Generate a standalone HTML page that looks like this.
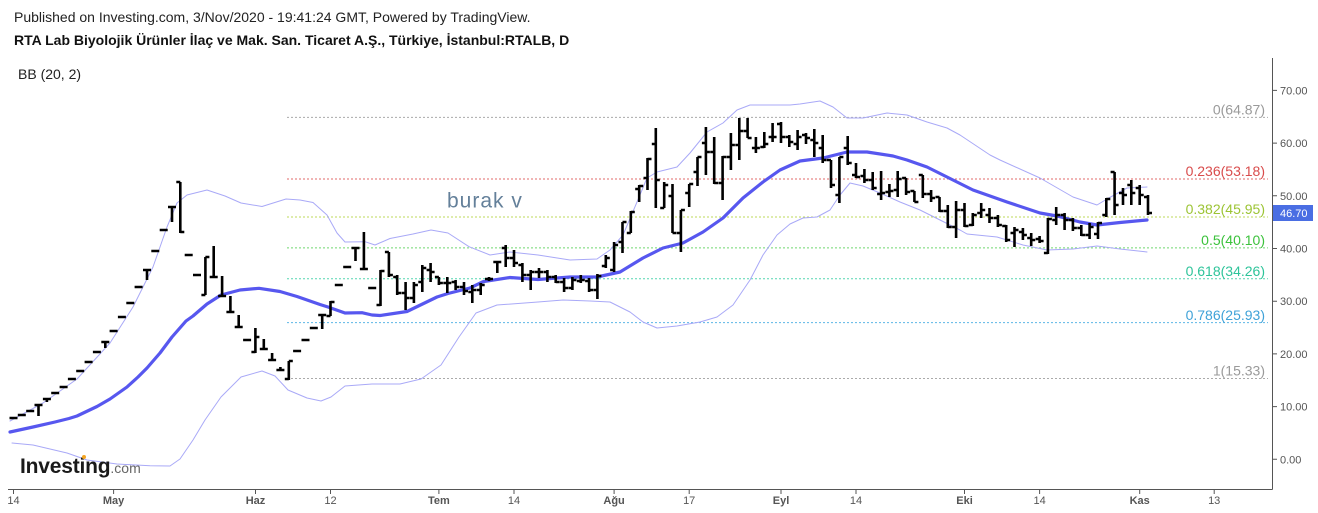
<!DOCTYPE html>
<html><head><meta charset="utf-8"><style>
html,body{margin:0;padding:0;background:#fff;width:1318px;height:513px;overflow:hidden}
svg{display:block}
text{font-family:"Liberation Sans",Arial,sans-serif}
</style></head><body>
<svg width="1318" height="513" viewBox="0 0 1318 513" xmlns="http://www.w3.org/2000/svg">
<rect width="1318" height="513" fill="#fff"/>
<text x="14" y="22" font-size="14" fill="#222">Published on Investing.com, 3/Nov/2020 - 19:41:24 GMT, Powered by TradingView.</text>
<text x="14" y="45" font-size="14" font-weight="bold" fill="#111">RTA Lab Biyolojik Ürünler İlaç ve Mak. San. Ticaret A.Ş., Türkiye, İstanbul:RTALB, D</text>
<text x="18" y="79" font-size="14" fill="#222">BB (20, 2)</text>

<!-- fib lines -->
<g stroke-width="1" stroke-dasharray="2,2" fill="none">
<line x1="287" y1="117.4" x2="1268" y2="117.4" stroke="#aaaaaa"/>
<line x1="287" y1="179" x2="1268" y2="179" stroke="#e06a6a"/>
<line x1="287" y1="217" x2="1268" y2="217" stroke="#bcd858"/>
<line x1="287" y1="247.9" x2="1268" y2="247.9" stroke="#6fd86f"/>
<line x1="287" y1="278.7" x2="1268" y2="278.7" stroke="#55d6b0"/>
<line x1="287" y1="322.6" x2="1268" y2="322.6" stroke="#5cb6e6"/>
<line x1="287" y1="378.5" x2="1268" y2="378.5" stroke="#aaaaaa"/>
</g>
<g font-size="14" text-anchor="end">
<text x="1265" y="114.5" fill="#9a9a9a">0(64.87)</text>
<text x="1265" y="176.2" fill="#d94c4c">0.236(53.18)</text>
<text x="1265" y="214.2" fill="#9cc434">0.382(45.95)</text>
<text x="1265" y="245.1" fill="#3cc23c">0.5(40.10)</text>
<text x="1265" y="275.9" fill="#2ec49a">0.618(34.26)</text>
<text x="1265" y="319.8" fill="#3fa2d8">0.786(25.93)</text>
<text x="1265" y="375.7" fill="#9a9a9a">1(15.33)</text>
</g>

<text x="447" y="207.5" font-size="21" letter-spacing="1" fill="#64809a">burak v</text>

<!-- Bollinger bands -->
<g fill="none" stroke-linejoin="round" stroke-linecap="round">
<polyline stroke="#a9a9f7" stroke-width="1" points="10,421 43,403 77,379 110,343 133,307 153,267 167,227 177,203 187,195 207,190 225,196 241,203 262,206.5 286,199 300,200 313,202.5 327,215 337,233 345,242 365,241.7 375,245 390,238.5 413,234 431,230 448,233 469,246.7 490,255 510,252 538,255 570,260 597,259 610,250 623,235 637,202 647,178 657,172 677,167 690,153 707,132 723,123 737,110 750,105 770,105 790,105 800,104 820,101 833,107 847,118 863,118 887,113 907,115 927,122 947,128 960,135 975,145 990,155 1000,160 1040,178 1073,197 1097,205 1107,199 1127,188 1147,187"/>
<polyline stroke="#a9a9f7" stroke-width="1" points="12,443 33,445 67,453 87,460 117,464 150,465.7 170,466 180,459 193,440 205,420 221,397 241,377 262,371 275,376 288,390 307,398 321,401 331,397 345,386 372,384 400,384 421,379 441,365 459,337 476,313 497,305 538,302 563,300 590,301 610,302 630,312 643,322 657,328 677,326 700,322 717,317 733,305 750,280 763,255 777,235 790,224 803,218 817,217 830,210 840,195 850,183 863,186 880,193 900,202 920,210 940,220 960,230 967,234 997,237 1023,245 1047,250 1073,249 1097,246 1120,249 1147,252"/>
<polyline stroke="#5757ef" stroke-width="3.2" points="10,432 33,427 55,422 69,418.5 77,416 97,406.5 110,399 127,387 138,377 147,368 160,353 172,337 186,321 193,316 207,304 221,295 240,290 259,288.3 280,291.5 297,296.5 320,304.5 328,307 345,313 362,312.7 372,315 380,315.5 407,311.5 437,297 448,293.5 470,288 483,281.7 510,277.5 538,279.5 570,277 597,277 620,272 643,258 663,248 683,243 703,232 723,218 743,198 763,182 780,170 800,161 823,158 847,152 867,152 893,156 907,160 927,167 947,177 973,190 1007,202 1040,213 1057,216 1080,222 1097,225 1120,222.5 1147,220"/>
</g>

<!-- OHLC bars -->
<path fill="none" stroke="#000" stroke-width="2.6" d="M9.5 418H17.5M17.8 415H25.8M26.2 411H34.2M38.5 405V416M34.5 405H42.5M46.9 399V402M42.9 399H50.9M51.2 393H59.2M59.6 387H67.6M67.9 379H75.9M76.2 371H84.2M84.6 362H92.6M92.9 352H100.9M105.3 342V348M101.3 342H109.3M109.6 331H117.6M117.9 317H125.9M126.3 303H134.3M134.6 287H142.6M147 270V280M143 270H151M151.3 251H159.3M159.7 230H167.7M172 207V222M168 207H176M180.3 182V233M176.3 182H180.3M180.3 232H184.3M184.7 255H192.7M193 275H201M205.4 257V295M201.4 295H205.4M205.4 257H209.4M213.7 246V278M209.7 277H217.7M222.1 276V297M218.1 296H226.1M230.4 296V313M226.4 312H234.4M238.7 315V328M234.7 327H242.7M243.1 340H251.1M255.4 328V353M251.4 352H255.4M255.4 337H259.4M263.8 339V350M259.8 349H267.8M272.1 353V361M268.1 360H276.1M280.4 367V370M276.4 370H284.4M288.8 361V380M284.8 379H288.8M288.8 361H292.8M293.1 351H301.1M301.5 340H309.5M309.8 328H317.8M322.2 315V329M318.2 315H326.2M330.5 301V316M326.5 316H330.5M330.5 302H334.5M334.8 285H342.8M343.2 267H351.2M355.5 248V261M351.5 248H359.5M363.9 232V269M359.9 269H367.9M368.2 288H376.2M380.5 270V306M376.5 305H380.5M380.5 271H384.5M388.9 252V277M384.9 252H388.9M388.9 275H392.9M397.2 275V295M393.2 277H397.2M397.2 293H401.2M405.6 282V310M401.6 293H405.6M405.6 298H409.6M413.9 282V303M409.9 298H413.9M413.9 285H417.9M422.3 265V292M418.3 282H422.3M422.3 268H426.3M430.6 263V282M426.6 270H430.6M430.6 272H434.6M438.9 277V285M434.9 277H438.9M438.9 283H442.9M447.3 277V293M443.3 283H451.3M455.6 280V290M451.6 282H455.6M455.6 287H459.6M464 282V295M460 287H464M464 291H468M472.3 285V303M468.3 292H472.3M472.3 290H476.3M480.7 283V295M476.7 290H480.7M480.7 285H484.7M489 277V281M485 279H493M497.3 262V273M493.3 262H501.3M505.7 245V267M501.7 248H505.7M505.7 258H509.7M514 250V267M510 258H514M514 263H518M522.4 263V282M518.4 265H522.4M522.4 275H526.4M530.7 270V290M526.7 275H530.7M530.7 272H534.7M539 268V278M535 272H543M547.4 270V282M543.4 272H547.4M547.4 277H551.4M555.7 275V283M551.7 277H555.7M555.7 282H559.7M564.1 278V292M560.1 282H564.1M564.1 288H568.1M572.4 277V290M568.4 288H572.4M572.4 280H576.4M580.8 275V283M576.8 281H580.8M580.8 280H584.8M589.1 278V292M585.1 281H589.1M589.1 290H593.1M597.4 274V299M593.4 290H597.4M597.4 276H601.4M605.8 255V268M601.8 266H605.8M605.8 258H609.8M614.1 242V272M610.1 270H614.1M614.1 245H618.1M622.5 222V253M618.5 242H622.5M622.5 222H626.5M630.8 211V233M626.8 233H630.8M630.8 212H634.8M639.2 185V202M635.2 189H639.2M639.2 186H643.2M647.5 158V190M643.5 178H647.5M647.5 159H651.5M655.8 128V208M651.8 144H655.8M655.8 180H659.8M664.2 182V208M660.2 208H664.2M664.2 185H668.2M672.5 184V233M668.5 196H672.5M672.5 233H676.5M680.9 210V252M676.9 233H680.9M680.9 210H684.9M689.2 184V207M685.2 193H689.2M689.2 184H693.2M697.5 157V186M693.5 172H697.5M697.5 157H701.5M705.9 127V175M701.9 143H705.9M705.9 152H709.9M714.2 137V184M710.2 152H714.2M714.2 183H718.2M722.6 156V200M718.6 183H722.6M722.6 157H726.6M730.9 133V170M726.9 157H730.9M730.9 145H734.9M739.3 118V160M735.3 145H739.3M739.3 131H743.3M747.6 118V138M743.6 131H747.6M747.6 138H751.6M755.9 137V153M751.9 148H759.9M764.3 132V148M760.3 147H764.3M764.3 144H768.3M772.6 123V142M768.6 137H776.6M781 122V143M777 124H781M781 137H785M789.3 135V147M785.3 137H789.3M789.3 142H793.3M797.6 130V150M793.6 144H797.6M797.6 137H801.6M806 133V144M802 135H806M806 138H810M814.3 129V157M810.3 140H814.3M814.3 143H818.3M822.7 135V163M818.7 148H822.7M822.7 160H826.7M831 160V188M827 160H831M831 185H835M839.4 157V203M835.4 195H839.4M839.4 157H843.4M847.7 136V165M843.7 148H847.7M847.7 163H851.7M856 163V178M852 175H856M856 177H860M864.4 169V183M860.4 176H864.4M864.4 180H868.4M872.7 172V190M868.7 180H872.7M872.7 188H876.7M881.1 171V200M877.1 194H881.1M881.1 193H885.1M889.4 184V197M885.4 192H889.4M889.4 191H893.4M897.7 171V197M893.7 190H897.7M897.7 179H901.7M906.1 178V195M902.1 178H906.1M906.1 192H910.1M914.4 191V202M910.4 191H914.4M914.4 202H918.4M922.8 175V198M918.8 175H922.8M922.8 194H926.8M931.1 190V202M927.1 194H931.1M931.1 198H935.1M939.5 197V212M935.5 197H939.5M939.5 211H943.5M947.8 205V228M943.8 211H947.8M947.8 227H951.8M956.1 201V238M952.1 227H956.1M956.1 210H960.1M964.5 203V227M960.5 210H964.5M964.5 226H968.5M972.8 213V226M968.8 225H972.8M972.8 215H976.8M981.2 203V218M977.2 213H981.2M981.2 210H985.2M989.5 208V223M985.5 215H989.5M989.5 218H993.5M997.9 215V227M993.9 218H997.9M997.9 225H1001.9M1006.2 225V242M1002.2 226H1006.2M1006.2 240H1010.2M1014.5 227V247M1010.5 233H1014.5M1014.5 230H1018.5M1022.9 228V240M1018.9 232H1022.9M1022.9 235H1026.9M1031.2 233V246M1027.2 238H1031.2M1031.2 240H1035.2M1039.6 236V243M1035.6 239H1039.6M1039.6 241H1043.6M1047.9 218V254M1043.9 253H1047.9M1047.9 219H1051.9M1056.2 207V225M1052.2 220H1056.2M1056.2 215H1060.2M1064.6 213V230M1060.6 215H1064.6M1064.6 220H1068.6M1072.9 218V231M1068.9 220H1072.9M1072.9 228H1076.9M1081.3 225V236M1077.3 228H1081.3M1081.3 235H1085.3M1089.6 223V239M1085.6 235H1089.6M1089.6 227H1093.6M1098 222V239M1094 234H1098M1098 223H1102M1106.3 198V217M1102.3 215H1106.3M1106.3 199H1110.3M1114.6 172V215M1110.6 172H1114.6M1114.6 205H1118.6M1123 188V205M1119 193H1123M1123 195H1127M1131.3 180V205M1127.3 185H1131.3M1131.3 193H1135.3M1139.7 185V205M1135.7 188H1139.7M1139.7 195H1143.7M1148 195V215M1144 197H1148M1148 213H1152"/>

<!-- axes -->
<g stroke="#555" stroke-width="1" fill="none">
<line x1="1272.5" y1="58" x2="1272.5" y2="489.5"/>
<line x1="8" y1="489.5" x2="1272.5" y2="489.5"/>
<path d="M1272 90.4H1277M1272 143.1H1277M1272 195.8H1277M1272 248.5H1277M1272 301.2H1277M1272 353.9H1277M1272 406.6H1277M1272 459.3H1277"/>
<path d="M13.5 489V494M113.6 489V494M255.5 489V494M330.5 489V494M438.9 489V494M514 489V494M614.1 489V494M689.2 489V494M781 489V494M856 489V494M964.5 489V494M1039.6 489V494M1139.7 489V494M1214.2 489V494"/>
</g>
<g font-size="11" fill="#555">
<text x="1280" y="94.4">70.00</text>
<text x="1280" y="147.1">60.00</text>
<text x="1280" y="199.8">50.00</text>
<text x="1280" y="252.5">40.00</text>
<text x="1280" y="305.2">30.00</text>
<text x="1280" y="357.9">20.00</text>
<text x="1280" y="410.6">10.00</text>
<text x="1280" y="463.3">0.00</text>
</g>
<rect x="1273" y="205" width="40" height="16" fill="#4a6ee3"/>
<text x="1280" y="217" font-size="11" fill="#fff">46.70</text>

<g font-size="11" fill="#555" text-anchor="middle">
<text x="13.5" y="504">14</text>
<text x="113.6" y="504" font-weight="bold">May</text>
<text x="255.5" y="504" font-weight="bold">Haz</text>
<text x="330.5" y="504">12</text>
<text x="438.9" y="504" font-weight="bold">Tem</text>
<text x="514" y="504">14</text>
<text x="614.1" y="504" font-weight="bold">Ağu</text>
<text x="689.2" y="504">17</text>
<text x="781" y="504" font-weight="bold">Eyl</text>
<text x="856" y="504">14</text>
<text x="964.5" y="504" font-weight="bold">Eki</text>
<text x="1039.6" y="504">14</text>
<text x="1139.7" y="504" font-weight="bold">Kas</text>
<text x="1214.2" y="504">13</text>
</g>

<!-- logo -->
<text x="20" y="473" font-size="21" font-weight="bold" letter-spacing="-0.2" fill="#1a1a1a">Investing<tspan font-size="14" font-weight="normal" letter-spacing="0" fill="#666">.com</tspan></text>
<circle cx="84" cy="457" r="2" fill="#f5a623"/>
</svg>
</body></html>
